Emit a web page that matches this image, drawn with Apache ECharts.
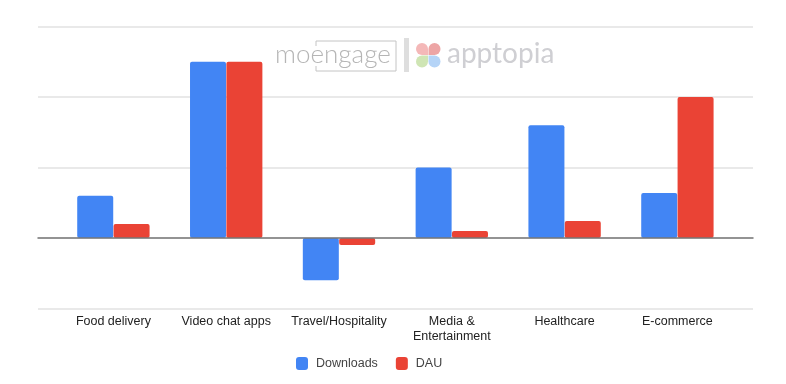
<!DOCTYPE html>
<html><head><meta charset="utf-8">
<style>html,body{margin:0;padding:0;background:#fff}#c{width:786px;height:384px}</style>
<script src="https://cdn.jsdelivr.net/npm/echarts@6/dist/echarts.min.js"></script>
</head><body><div id="c"></div>
<script>
const categories = ['Food delivery','Video chat apps','Travel/Hospitality','Media &\nEntertainment','Healthcare','E-commerce'];
const downloads = [30,125,-30,50,80,32];
const dau = [10,125,-5,5,12,100];
const yMin = -50, yMax = 150, yStep = 50;
const font = '"Liberation Sans", Arial, sans-serif';
const chart = echarts.init(document.getElementById('c'), null, {renderer:'canvas'});
const petal = (x,y,c,r)=>({type:'rect',silent:true,shape:{x,y,width:12,height:12,r},style:{fill:c}});
chart.setOption({
  animation:false,
  backgroundColor:'#fff',
  legend:{left:291,top:352,itemWidth:12,itemHeight:13,itemGap:18,icon:'roundRect',
    textStyle:{fontFamily:font,fontSize:12.5,color:'#444',letterSpacing:0.2,padding:[0,0,0,3]},data:['Downloads','DAU']},
  grid:[
    {left:38,right:33,top:26.5,height:282,containLabel:false},
    {left:57,right:52.2,top:26.5,height:282,containLabel:false}
  ],
  xAxis:[
    {type:'category',gridIndex:0,data:[''],axisTick:{show:false},axisLabel:{show:false},
     axisLine:{onZero:true,lineStyle:{color:'#777',width:1.5}},z:5},
    {type:'category',gridIndex:1,data:categories,position:'bottom',axisTick:{show:false},
     axisLine:{show:false,onZero:false},
     axisLabel:{fontFamily:font,fontSize:12.5,color:'#222',lineHeight:14.5,margin:6,interval:0}}
  ],
  yAxis:[
    {type:'value',gridIndex:0,min:yMin,max:yMax,interval:yStep,axisLabel:{show:false},axisLine:{show:false},axisTick:{show:false},
     splitLine:{lineStyle:{color:'#e2e2e2',width:1.5}}},
    {type:'value',gridIndex:1,min:yMin,max:yMax,interval:yStep,axisLabel:{show:false},axisLine:{show:false},axisTick:{show:false},splitLine:{show:false}}
  ],
  series:[
    {name:'Downloads',type:'bar',xAxisIndex:1,yAxisIndex:1,data:downloads,barWidth:36,barGap:'1%',itemStyle:{color:'#4285f4',borderRadius:2},z:2},
    {name:'DAU',type:'bar',xAxisIndex:1,yAxisIndex:1,data:dau,barWidth:36,barGap:'1%',itemStyle:{color:'#ea4335',borderRadius:2},z:2}
  ],
  graphic:{elements:[
    {type:'text',left:275,top:42,silent:true,style:{text:'moengage',fontFamily:'Lato, sans-serif',fontWeight:300,fontSize:26,fill:'#b5b5b5'}},
    {type:'polyline',silent:true,shape:{points:[[316,46],[316,41],[396,41],[396,71],[316,71],[316,66]]},style:{stroke:'#c4c4c4',fill:'none',lineWidth:1}},
    {type:'rect',silent:true,shape:{x:404,y:38,width:5,height:34},style:{fill:'#dedede'}},
    petal(416,43,'#f4b8b8',[6,6,0,6]),
    petal(428.5,43,'#eda5a5',[6,6,6,0]),
    petal(416,55.5,'#cfe5b4',[6,0,6,6]),
    petal(428.5,55.5,'#b5d4f7',[0,6,6,6]),
    {type:'text',left:447,top:40,silent:true,style:{text:'apptopia',fontFamily:'Lato, sans-serif',fontWeight:400,fontSize:28,fill:'#cfcfd3'}}
  ]}
});
</script></body></html>
